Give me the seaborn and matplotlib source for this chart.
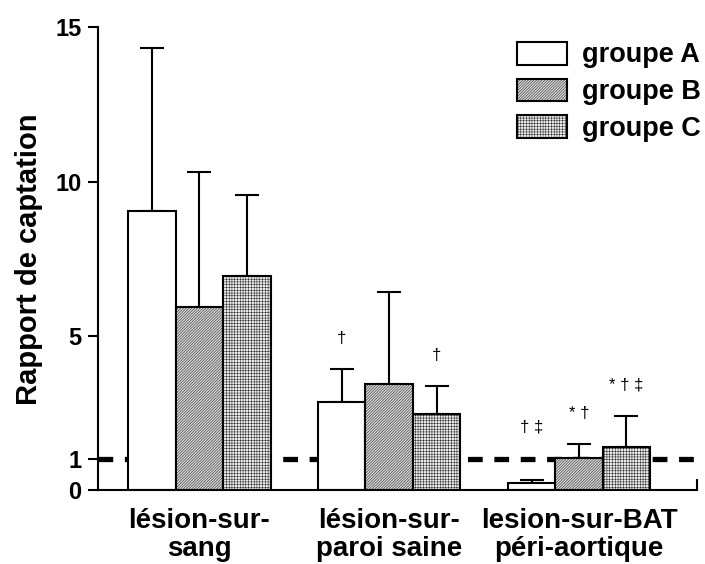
import matplotlib
matplotlib.use('Agg')

import matplotlib.pyplot as plt
import seaborn as sns
import pandas as pd

# values
categories = ['lésion-sur-\nsang', 'lésion-sur-\nparoi saine', 'lesion-sur-BAT\npéri-aortique']
groups = ['groupe A', 'groupe B', 'groupe C']
means_a = [9.05, 2.87, 0.25]
means_b = [5.95, 3.45, 1.06]
means_c = [6.95, 2.48, 1.41]
err_a = [5.27, 1.07, 0.08]
err_b = [4.36, 2.96, 0.43]
err_c = [2.61, 0.91, 1.01]
marks_a = ['', '†', '† ‡']
marks_b = ['', '', '* †']
marks_c = ['', '†', '* † ‡']
ref_level = 1
y_ticks = [0, 1, 5, 10, 15]

sns.set_style('white')
plt.rcParams['font.family'] = ['Liberation Sans', 'DejaVu Sans']
plt.rcParams['font.weight'] = 'bold'
plt.rcParams['hatch.linewidth'] = 0.3
for k in ['text.color', 'axes.labelcolor', 'xtick.color', 'ytick.color']:
    plt.rcParams[k] = 'black'

df = pd.DataFrame({
    'cat': categories * 3,
    'group': [g for g in groups for _ in categories],
    'val': means_a + means_b + means_c,
})
errs = [err_a, err_b, err_c]
marks = [marks_a, marks_b, marks_c]

fig = plt.figure(figsize=(7.05, 5.64), dpi=100)
ax = fig.add_axes([0.139, 0.1307, 0.8497, 0.8209])

sns.barplot(data=df, x='cat', y='val', hue='group', hue_order=groups,
            palette=['white', '#d4d4d4', '#ebebeb'], width=0.75, errorbar=None,
            edgecolor='black', linewidth=1.5, legend=False, ax=ax, zorder=2)

bar_sets = list(ax.containers)
hatches = [None, '/' * 12, '+' * 6]
for i, cont in enumerate(bar_sets):
    xs, ys = [], []
    for bar in cont.patches:
        bar.set_hatch(hatches[i])
        xs.append(bar.get_x() + bar.get_width() / 2)
        ys.append(bar.get_height())
    ax.errorbar(xs, ys, yerr=[[0] * len(ys), errs[i]], fmt='none', ecolor='black',
                elinewidth=1.5, capsize=8.5, capthick=1.5, zorder=1)
    for x, y, e, m in zip(xs, ys, errs[i], marks[i]):
        if m:
            # labels of bars under the reference line are lifted above it
            off = 22 if y > ref_level else 38
            ax.annotate(m, (x, y + e), xytext=(0, off), textcoords='offset points',
                        ha='center', va='center', fontsize=12, fontweight='normal')

ax.axhline(ref_level, color='black', lw=3.8, dashes=(2.8, 2.2), zorder=0)

ax.set_ylim(0, 15)
ax.set_xlim(-0.534, 2.622)
ax.set_yticks(y_ticks)
ax.set_xticks([2.622], minor=True)
ax.tick_params(axis='y', length=7, width=1.5, pad=5, labelsize=17, left=True)
ax.tick_params(axis='x', which='major', length=0, pad=13, labelsize=20)
ax.tick_params(axis='x', which='minor', direction='in', length=8, width=1.5, bottom=True)
for lbl in ax.get_xticklabels():
    lbl.set_linespacing(1.1)
ax.set_xlabel('')
ax.set_ylabel('Rapport de captation', fontsize=21, fontweight='bold', labelpad=9)
for side in ['top', 'right']:
    ax.spines[side].set_visible(False)
for side in ['left', 'bottom']:
    ax.spines[side].set_linewidth(1.5)
    ax.spines[side].set_color('black')

ax.legend(bar_sets, groups, loc='upper left', bbox_to_anchor=(0.733, 0.926),
          bbox_transform=fig.transFigure, frameon=False, fontsize=19.5,
          handlelength=1.85, handleheight=0.92, handletextpad=0.55,
          labelspacing=0.37, borderpad=0, borderaxespad=0)

fig.savefig('out.png', dpi=100)
